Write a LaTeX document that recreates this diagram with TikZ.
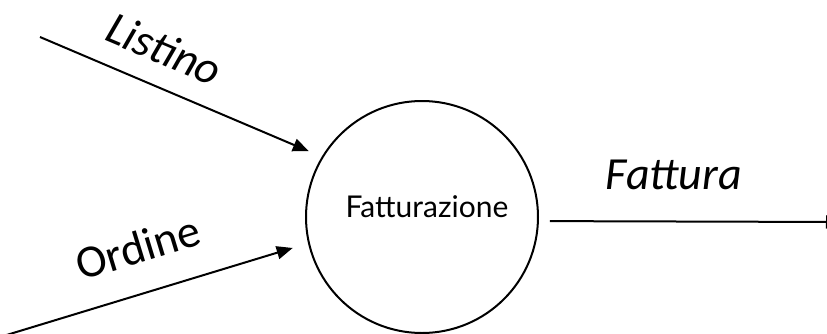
\documentclass[tikz,border=0pt]{standalone}
\usepackage{fontspec}
\setmainfont{Carlito}
\newfontfamily\procfont{Lato}
\usetikzlibrary{arrows.meta}
\tikzset{
  process/.style={circle, draw, line width=1pt, minimum size=116pt, inner sep=0pt},
  flow/.style={line width=1pt, -{Triangle[length=8pt,width=6.5pt]}},
  flowlabel/.style={font=\fontsize{23}{28}\selectfont}
}
\begin{document}
\begin{tikzpicture}[x=0.5pt, y=-0.5pt]
\clip (0,0) rectangle (827,333);
\node[process, label={[font=\procfont\fontsize{15}{18}\selectfont, xshift=2.5pt, yshift=5pt]center:Fatturazione}] (proc) at (422,217) {};
\coordinate (listinoin) at (40,37);
\coordinate (ordinein) at (0,337);
\coordinate (fatturaout) at (842,222);
\draw[flow, shorten >=7pt] (listinoin) to node[flowlabel, sloped, above=7pt, pos=0.39] {\textit{Listino}} (proc.149);
\draw[flow, shorten >=8pt] (ordinein) to node[flowlabel, sloped, above=11pt, pos=0.49] {Ordine} (proc.193.5);
\draw[flow, shorten <=5.5pt] (proc.-2.5) to node[flowlabel, above=12pt, pos=0.445] {\textit{Fattura}} (fatturaout);
\end{tikzpicture}
\end{document}
